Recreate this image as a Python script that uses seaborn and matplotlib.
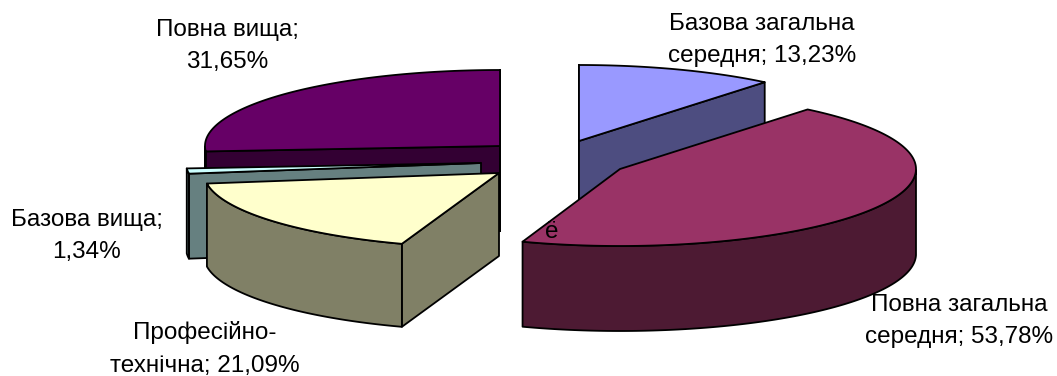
import numpy as np
import matplotlib
matplotlib.use("Agg")
import matplotlib.pyplot as plt
import seaborn as sns

# Data, in the pie's order (clockwise from twelve o'clock)
categories = ["Базова загальна середня", "Повна загальна середня",
              "Професійно-технічна", "Базова вища", "Повна вища"]
values = [13.23, 53.78, 21.09, 1.34, 31.65]
label_breaks = ["Базова загальна\nсередня; {}%", "Повна загальна\nсередня; {}%",
                "Професійно-\nтехнічна; {}%", "Базова вища;\n{}%", "Повна вища;\n{}%"]

# Style and layout
top_colors = sns.color_palette(["#9999FF", "#993366", "#FFFFCC", "#CCFFFF", "#660066"])
side_colors = sns.color_palette(["#4D4D80", "#4D1A33", "#808066", "#668080", "#330033"])
centers = [(579, 141), (620, 169), (499, 173), (481, 163), (500, 146)]
radii = [(293, 76), (296, 77), (295, 75), (295, 76), (295, 76)]
depths = [85, 85, 83, 85, 85]
label_pos = [(762, 40), (959, 321), (205, 349), (87, 236), (227, 46)]
draw_order = [4, 3, 2, 0, 1]
FONT = 17.5
LW = 1.3

sns.set_theme(style="white")
plt.rcParams["font.family"] = ["Liberation Sans", "DejaVu Sans"]

fig, ax = plt.subplots(figsize=(10.57, 3.76), dpi=100)
fig.subplots_adjust(0, 0, 1, 1)
ax.set_xlim(0, 1057)
ax.set_ylim(376, 0)
ax.set_axis_off()

edges = np.concatenate([[0], np.cumsum(values)]) / np.sum(values) * 2 * np.pi


def poly(xy, color):
    xy = np.asarray(xy)
    ax.fill(xy[:, 0], xy[:, 1], facecolor=color, edgecolor="black",
            linewidth=LW, joinstyle="round")


for i in draw_order:
    cx, cy = centers[i]
    rx, ry = radii[i]
    d = depths[i]
    a0, a1 = edges[i], edges[i + 1]
    t = np.linspace(a0, a1, 200)
    x = cx + rx * np.sin(t)
    y = cy - ry * np.cos(t)

    # cut faces: only those turned towards the viewer
    for a, visible in ((a0, np.sin(a0) <= 1e-9), (a1, np.sin(a1) >= -1e-9)):
        if visible:
            px, py = cx + rx * np.sin(a), cy - ry * np.cos(a)
            poly([(cx, cy), (px, py), (px, py + d), (cx, cy + d)], side_colors[i])

    # outer wall: the near half of the rim only
    mask = np.cos(t) <= 0
    if mask.any():
        wx, wy = x[mask], y[mask]
        poly(np.vstack([np.c_[wx, wy], np.c_[wx[::-1], wy[::-1] + d]]), side_colors[i])

    # top face
    poly(np.vstack([[(cx, cy)], np.c_[x, y]]), top_colors[i])

for tmpl, v, (lx, ly) in zip(label_breaks, values, label_pos):
    ax.text(lx, ly, tmpl.format(f"{v:.2f}".replace(".", ",")), ha="center", va="center",
            fontsize=FONT, color="black", linespacing=1.62)
ax.text(552, 232, "ё", ha="center", va="center", fontsize=FONT, color="black")

fig.savefig("out.png", dpi=100)
